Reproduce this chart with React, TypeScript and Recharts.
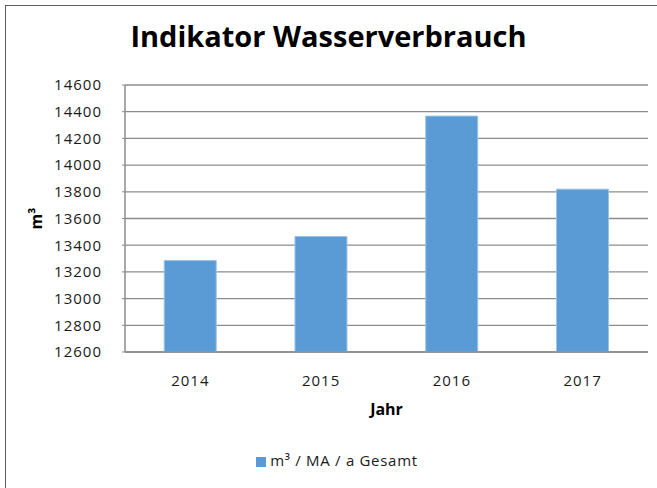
import React from 'react'
import { BarChart, Bar, XAxis, YAxis, CartesianGrid, Legend } from 'recharts'

const years = ['2014', '2015', '2016', '2017']
const verbrauch = [13285, 13465, 14367, 13820]
const yTicks = [12600, 12800, 13000, 13200, 13400, 13600, 13800, 14000, 14200, 14400, 14600]
const seriesName = 'm³ / MA / a Gesamt'

const data = years.map((jahr, i) => ({ jahr, wert: verbrauch[i] }))

const FONT = '"Open Sans", sans-serif'
const tickStyle = { fill: '#1a1a1a', fontSize: 15, fontFamily: FONT, letterSpacing: 1 }

const YLabel = ({ viewBox }: any) => {
  const cx = 36
  const cy = viewBox.y + viewBox.height / 2
  return (
    <text x={cx} y={cy} transform={`rotate(-90 ${cx} ${cy})`} textAnchor="middle" dominantBaseline="central"
      style={{ fontFamily: FONT, fontWeight: 700, fontSize: 16, fill: '#000' }}>
      m³
    </text>
  )
}

export default function App() {
  return (
    <div style={{ position: 'absolute', left: 0, top: 0, width: 657, height: 488, overflow: 'hidden', background: '#fff' }}>
      {/* Excel chart frame, right/bottom edges fall outside the crop */}
      <div style={{ position: 'absolute', left: 5, top: 5, width: 700, height: 600, border: '1.5px solid #5f5f5f' }} />
      <div style={{ position: 'absolute', left: 0, top: 16, width: 657, textAlign: 'center', fontFamily: FONT, fontWeight: 700, fontSize: 29, color: '#000' }}>
        Indikator Wasserverbrauch
      </div>
      <div style={{ position: 'absolute', left: 0, top: 0 }}>
        <BarChart width={657} height={488} data={data} barCategoryGap="30%"
          margin={{ top: 85, right: 9, left: 0, bottom: 18 }}>
          <CartesianGrid vertical={false} stroke="#8c8c8c" strokeWidth={1.3} />
          <XAxis dataKey="jahr" height={98} tickLine={false} tickMargin={17} tick={tickStyle}
            axisLine={{ stroke: '#8c8c8c', strokeWidth: 1.5 }}
            label={{ value: 'Jahr', position: 'insideTop', offset: 52, style: { fontFamily: FONT, fontWeight: 700, fontSize: 16, fill: '#000' } }} />
          <YAxis width={125} domain={[12600, 14600]} ticks={yTicks} interval={0} tickSize={3} tickMargin={20}
            tick={tickStyle} axisLine={{ stroke: '#8c8c8c', strokeWidth: 1.5 }} tickLine={{ stroke: '#8c8c8c' }}
            label={<YLabel />} />
          <Legend verticalAlign="bottom" iconType="square" iconSize={10}
            wrapperStyle={{ fontFamily: FONT, fontSize: 15, letterSpacing: 0.7, paddingLeft: 18 }}
            formatter={(v: string) => <span style={{ color: '#1a1a1a' }}>{v}</span>} />
          <Bar dataKey="wert" name={seriesName} fill="#5b9bd5" stroke="#9dc3e6" strokeWidth={1} isAnimationActive={false} />
        </BarChart>
      </div>
    </div>
  )
}
